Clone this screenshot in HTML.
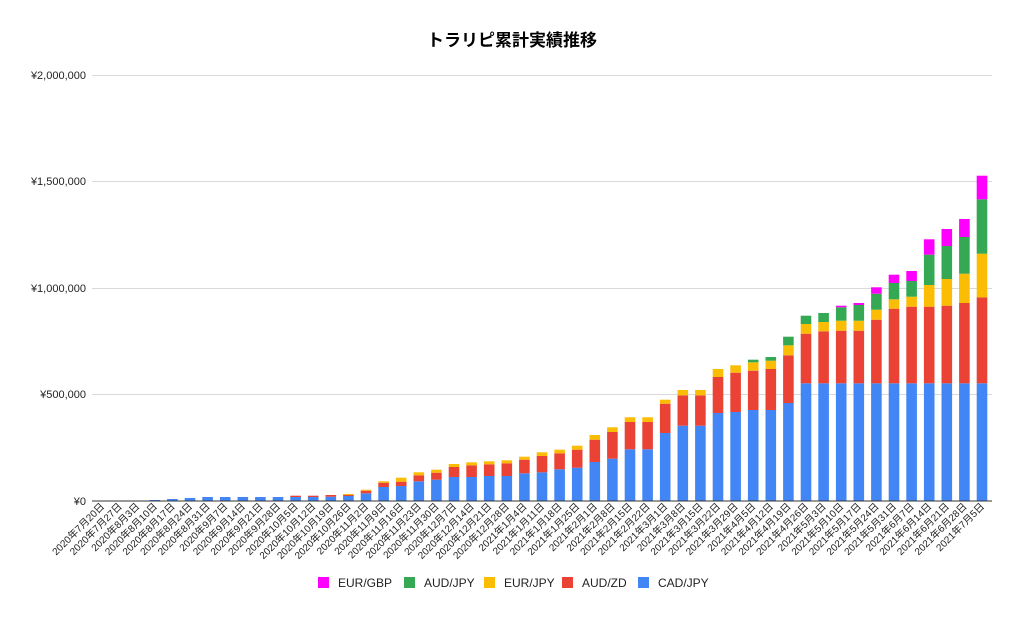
<!DOCTYPE html>
<html><head><meta charset="utf-8"><style>
html,body{margin:0;padding:0;background:#fff;}
svg{display:block;font-family:"Liberation Sans","Noto Sans CJK JP",sans-serif;}
</style></head><body>
<svg id="s" width="1024" height="620" viewBox="0 0 1024 620" xmlns="http://www.w3.org/2000/svg">
<rect width="1024" height="620" fill="#fff"/>
<text x="512" y="46" text-anchor="middle" font-size="17" font-weight="bold" fill="#000">トラリピ累計実績推移</text>
<g stroke="#d9d9d9" stroke-width="1">
<line x1="92" x2="992" y1="75.5" y2="75.5"/>
<line x1="92" x2="992" y1="181.5" y2="181.5"/>
<line x1="92" x2="992" y1="288.5" y2="288.5"/>
<line x1="92" x2="992" y1="394.5" y2="394.5"/>
</g>
<g font-size="11" fill="#222" text-anchor="end">
<text x="86" y="79">¥2,000,000</text>
<text x="86" y="185">¥1,500,000</text>
<text x="86" y="292">¥1,000,000</text>
<text x="86" y="398">¥500,000</text>
<text x="86" y="505">¥0</text>
</g>
<g id="bars"></g>
<line x1="92" x2="992" y1="501" y2="501" stroke="#333" stroke-width="1"/>
<g id="labels" font-size="10" fill="#222" text-anchor="end">
<text>2020年7月20日</text><text>2020年7月27日</text><text>2020年8月3日</text><text>2020年8月10日</text><text>2020年8月17日</text><text>2020年8月24日</text><text>2020年8月31日</text><text>2020年9月7日</text><text>2020年9月14日</text><text>2020年9月21日</text><text>2020年9月28日</text><text>2020年10月5日</text><text>2020年10月12日</text><text>2020年10月19日</text><text>2020年10月26日</text><text>2020年11月2日</text><text>2020年11月9日</text><text>2020年11月16日</text><text>2020年11月23日</text><text>2020年11月30日</text><text>2020年12月7日</text><text>2020年12月14日</text><text>2020年12月21日</text><text>2020年12月28日</text><text>2021年1月4日</text><text>2021年1月11日</text><text>2021年1月18日</text><text>2021年1月25日</text><text>2021年2月1日</text><text>2021年2月8日</text><text>2021年2月15日</text><text>2021年2月22日</text><text>2021年3月1日</text><text>2021年3月8日</text><text>2021年3月15日</text><text>2021年3月22日</text><text>2021年3月29日</text><text>2021年4月5日</text><text>2021年4月12日</text><text>2021年4月19日</text><text>2021年4月26日</text><text>2021年5月3日</text><text>2021年5月10日</text><text>2021年5月17日</text><text>2021年5月24日</text><text>2021年5月31日</text><text>2021年6月7日</text><text>2021年6月14日</text><text>2021年6月21日</text><text>2021年6月28日</text><text>2021年7月5日</text>
</g>
<g font-size="12" fill="#222">
<rect x="318" y="577" width="11" height="11" fill="#ff00ff"/><text x="338" y="587">EUR/GBP</text>
<rect x="404" y="577" width="11" height="11" fill="#34a853"/><text x="424" y="587">AUD/JPY</text>
<rect x="484" y="577" width="11" height="11" fill="#fbbc04"/><text x="504" y="587">EUR/JPY</text>
<rect x="562" y="577" width="11" height="11" fill="#ea4335"/><text x="582" y="587">AUD/ZD</text>
<rect x="638" y="577" width="11" height="11" fill="#4285f4"/><text x="658" y="587">CAD/JPY</text>
</g>
</svg>
<script>
var d=[[0],[0],[0],[1],[2],[3],[4],[4],[4],[4],[4],[4,5.3],[4,5.3],[4.3,6],[5,6,7],
[7.7,10.3,11.3],[14,18.3,19.7],[15,19.3,23.3],[19.7,25.7,28.7],[21.3,28.3,31.3],[24,34,37],[24,35.7,38.7],[25,36.7,39.7],[25,37.7,40.7],
[27.7,41.3,44.3],[28.7,45,48.7],[31.7,47.7,51.3],[33.3,51.3,55.3],[39,61.3,66],[42.3,69,73.7],[51.7,79,83.7],[51.7,79,83.7],
[68,97.3,101.3],[75.3,105.7,111],[75.3,105.7,111],[88,124,132],[89,128.3,135.7],[91,130.3,138.7,141.3],[91,132,140.3,144],
[98,145.7,155.7,164.3],[117.7,167.3,177,185.3],[117.7,169.7,179,188],[117.7,170.3,180.3,193.7,195.3],[117.7,170.3,180.3,196,198],
[117.7,181.3,191.3,207.3,213.7],[117.7,192.3,201.7,218,226.3],[117.7,194.3,204.3,220,230],[117.7,194.3,216,246.3,261.7],
[117.7,195.3,222,255,272],[117.7,198,227.3,264,282],[117.7,203.7,247.3,301.7,325.3]];
var col=["#4285f4","#ea4335","#fbbc04","#34a853","#ff00ff"];
var g=document.getElementById("bars"),ns="http://www.w3.org/2000/svg";
var labs=document.getElementById("labels").children;
for(var i=0;i<51;i++){var c=102+17.6*i;var prev=0;
 for(var k=0;k<d[i].length;k++){var h=d[i][k];if(h>prev){var r=document.createElementNS(ns,"rect");
 r.setAttribute("x",c-5.3);r.setAttribute("width",10.6);r.setAttribute("y",501-h);r.setAttribute("height",h-prev);r.setAttribute("fill",col[k]);g.appendChild(r);}prev=h;}
 var t=labs[i];t.setAttribute("transform","translate("+(c+3)+",507) rotate(-45)");}
</script>
</body></html>
